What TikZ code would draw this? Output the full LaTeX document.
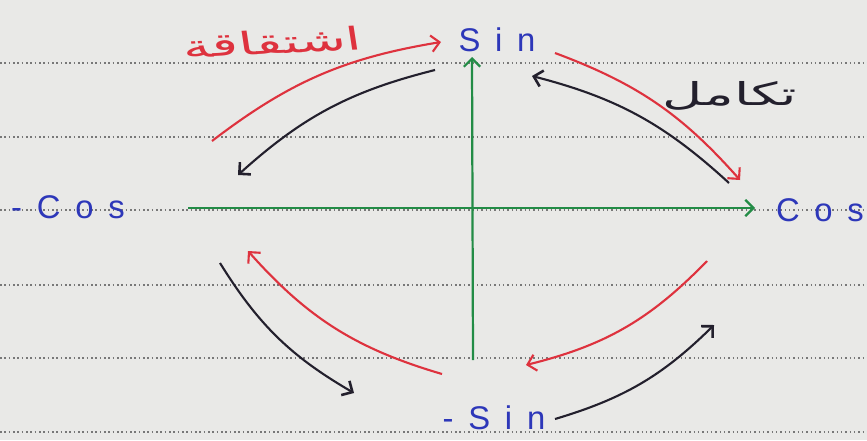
\documentclass[tikz,border=0pt]{standalone}
\usepackage{fontspec}
\setmainfont{Liberation Sans}
\newfontfamily\fnfont[LetterSpace=45]{Liberation Sans}
\newfontfamily\arabicfont[Script=Arabic]{DejaVu Sans}
\TeXXeTstate=1
\usetikzlibrary{arrows.meta,calc}
\definecolor{PaperClr}{RGB}{233,233,231}
\definecolor{RuleClr}{RGB}{120,120,120}
\definecolor{AxisClr}{RGB}{35,140,70}
\definecolor{LblClr}{RGB}{45,55,185}
\definecolor{DerivClr}{RGB}{222,50,62}
\definecolor{IntClr}{RGB}{35,32,45}

\tikzset{
  axis/.style={AxisClr,line width=1.9pt,-{Straight Barb[length=7pt,width=14pt,line width=1.9pt]}},
  deriv/.style={DerivClr,line width=1.8pt,-{Straight Barb[length=7pt,width=14pt,line width=1.8pt]}},
  integ/.style={IntClr,line width=1.8pt,-{Straight Barb[length=7pt,width=14pt,line width=2.2pt]}},
  fn/.style={LblClr,font=\fnfont\fontsize{28}{32}\selectfont},
  word/.style={xscale=1.75,font=\arabicfont\fontsize{27}{32}\selectfont},
}

\begin{document}
\begin{tikzpicture}[x=0.03cm,y=-0.03cm]
\useasboundingbox (0,0) rectangle (867,440);
\fill[PaperClr] (0,0) rectangle (867,440);

% ruled paper
\foreach \y in {63,137,210,285,358,432}
  \draw[RuleClr,line width=0.9pt,dash pattern=on 1.3pt off 2.4pt] (0,\y) -- (867,\y);

% axes
\coordinate (O) at (472,208);
\coordinate (Xl) at (188,208);
\coordinate (Xr) at (755,208);
\coordinate (Yt) at (472,57);
\coordinate (Yb) at (473,360);
\draw[axis] (Xl) -- (Xr);
\draw[axis] (Yb) -- (Yt);

% functions
\node[fn] (sin) at (497,40) {Sin};
\node[fn] (cos) at (820,210) {Cos};
\node[fn] (mcos) at (68,207) {-Cos};
\node[fn] (msin) at (494,418) {-Sin};

% end points of the arcs
\coordinate (D1a) at (212,141);  \coordinate (D1b) at (441,42);
\coordinate (I1a) at (435,70);   \coordinate (I1b) at (238,175);
\coordinate (D2a) at (555,53);   \coordinate (D2b) at (740,180);
\coordinate (I2a) at (729,183);  \coordinate (I2b) at (532,76);
\coordinate (D3a) at (442,374);  \coordinate (D3b) at (248,251);
\coordinate (I3a) at (220,263);  \coordinate (I3b) at (354,393);
\coordinate (D4a) at (707,261);  \coordinate (D4b) at (526,365);
\coordinate (I4a) at (555,419);  \coordinate (I4b) at (714,325);

% derivative (red) and integral (black)
\draw[deriv] (D1a) to[bend left=14] (D1b);
\draw[integ] (I1a) to[bend right=14] (I1b);
\draw[deriv] (D2a) to[bend left=14] (D2b);
\draw[integ] (I2a) to[bend right=14] (I2b);
\draw[deriv] (D3a) to[bend left=16] (D3b);
\draw[integ] (I3a) to[bend right=14] (I3b);
\draw[deriv] (D4a) to[bend left=16] (D4b);
\draw[integ] (I4a) to[bend right=14] (I4b);

\node[word,DerivClr,rotate=5] (deriv) at (272,42) {\beginR اشتقاقة\endR};
\node[word,IntClr] (integ) at (730,96) {\beginR تكامل\endR};

\end{tikzpicture}
\end{document}
